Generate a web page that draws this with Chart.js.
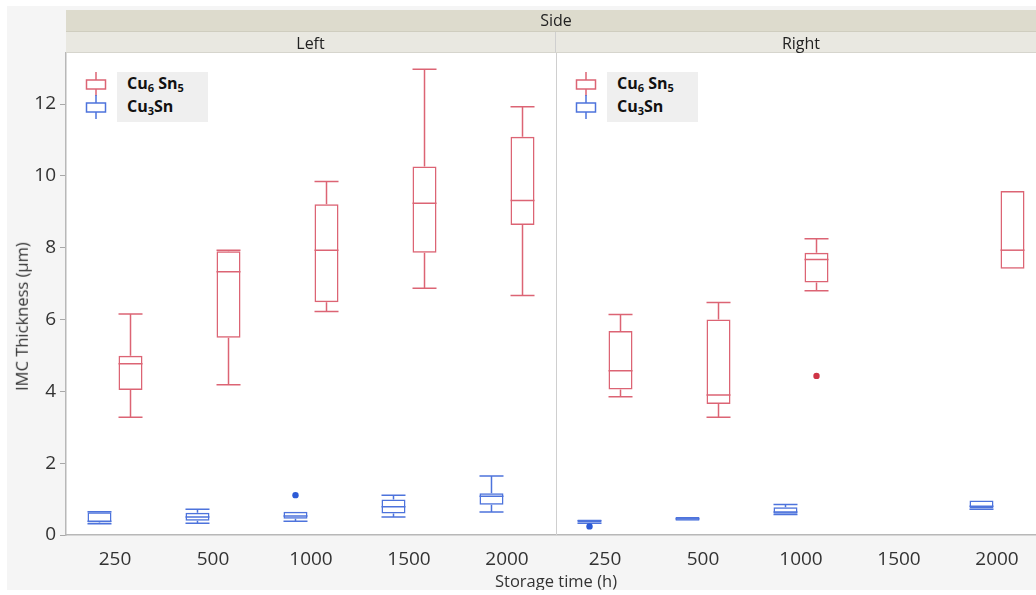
<!DOCTYPE html>
<html>
<head>
<meta charset="utf-8">
<script src="https://cdn.jsdelivr.net/npm/chart.js@4.4.1/dist/chart.umd.min.js"></script>
<style>
  html, body { margin:0; padding:0; width:1036px; height:595px; overflow:hidden; background:#ffffff; font-family:'Open Sans', sans-serif; }
  #bg { position:absolute; left:7px; top:6px; width:1029px; height:584px; background:#f5f5f5; }
  #wrap { position:absolute; left:0; top:0; width:1060px; height:595px; }
  #bottomCut { position:absolute; left:0; top:590px; width:1036px; height:5px; background:#ffffff; z-index:5; }
  .band { position:absolute; box-sizing:border-box; text-align:center; color:#222; font-size:16px; z-index:3; }
  .legend { position:absolute; z-index:4; }
  .txt { font-weight:bold; font-size:16px; color:#111; white-space:nowrap; line-height:18px; }
  .txt sub { font-size:11px; vertical-align:-3px; line-height:0; }
  #ytitle { position:absolute; z-index:4; font-size:16.5px; color:#333; white-space:nowrap; transform-origin:center center; }
</style>
</head>
<body>
<div id="bg"></div>
<div id="wrap"><canvas id="c" width="1060" height="595"></canvas></div>
<div id="bottomCut"></div>
<script>
// ---------------- data ----------------
const sides = ['Left', 'Right'];
const times = ['250', '500', '1000', '1500', '2000'];
const xLabels = sides.flatMap(() => times);   // Left 250..2000, then Right 250..2000
const seriesNames = ['Cu6Sn5', 'Cu3Sn'];

// Cu6Sn5 box statistics (µm)
const cu6Min = [3.28, 4.18, 6.22, 6.87, 6.67,   3.85, 3.28, 6.80, null, 7.41];
const cu6Q1  = [4.04, 5.49, 6.48, 7.86, 8.63,   4.05, 3.65, 7.03, null, 7.41];
const cu6Med = [4.77, 7.33, 7.93, 9.24, 9.31,   4.57, 3.90, 7.67, null, 7.93];
const cu6Q3  = [4.99, 7.90, 9.21, 10.26, 11.09, 5.68, 6.00, 7.86, null, 9.58];
const cu6Max = [6.15, 7.93, 9.84, 12.97, 11.92, 6.14, 6.47, 8.25, null, 9.58];
const cu6Out = [[], [], [], [], [],             [], [], [4.43], [], []];

// Cu3Sn box statistics (µm)
const cu3Min = [0.31, 0.33, 0.38, 0.50, 0.64,   0.33, 0.39, 0.57, null, 0.72];
const cu3Q1  = [0.35, 0.40, 0.45, 0.60, 0.84,   0.35, 0.40, 0.59, null, 0.74];
const cu3Med = [0.38, 0.50, 0.53, 0.79, 1.08,   0.40, 0.45, 0.64, null, 0.80];
const cu3Q3  = [0.63, 0.62, 0.65, 0.99, 1.16,   0.43, 0.50, 0.77, null, 0.96];
const cu3Max = [0.65, 0.72, 0.65, 1.11, 1.64,   0.43, 0.51, 0.85, null, 0.97];
const cu3Out = [[], [], [1.11], [], [],         [0.24], [], [], [], []];

const yTicks = [0, 2, 4, 6, 8, 10, 12];
const xTitle = 'Storage time (h)';
const yTitle = 'IMC Thickness (μm)';
const groupTitle = 'Side';

// ---------------- styles ----------------
const RED = '#dc6474';
const RED_DOT = '#cf3446';
const BLUE = '#4d73dc';
const BLUE_DOT = '#2d5bd6';
const FONT = "'Open Sans', sans-serif";

function boxData(q1, q3) { return q1.map((v, i) => v == null ? null : [v, q3[i]]); }

const plotBg = {
  id: 'plotBg',
  beforeDraw(chart) {
    const {ctx, chartArea: a} = chart;
    ctx.save();
    ctx.fillStyle = '#ffffff';
    ctx.fillRect(a.left, a.top, a.right - a.left, a.bottom - a.top);
    ctx.restore();
  }
};

const boxParts = {
  id: 'boxParts',
  afterDatasetsDraw(chart) {
    const {ctx} = chart;
    const y = chart.scales.y;
    const xs = chart.scales.x;
    const a = chart.chartArea;
    ctx.save();
    // panel divider
    const xd = Math.round(xs.getPixelForValue(4.5)) + 0.5;
    ctx.strokeStyle = '#cfcfcf';
    ctx.lineWidth = 1;
    ctx.beginPath(); ctx.moveTo(xd, a.top); ctx.lineTo(xd, a.bottom); ctx.stroke();

    chart.data.datasets.forEach((ds, di) => {
      const meta = chart.getDatasetMeta(di);
      const st = ds.stats;
      ctx.strokeStyle = ds.borderColor;
      ctx.lineWidth = 1.5;
      meta.data.forEach((el, j) => {
        if (ds.data[j] == null) return;
        const cx = el.x, hw = el.width / 2;
        const pMin = y.getPixelForValue(st.min[j]);
        const pMax = y.getPixelForValue(st.max[j]);
        const pQ1 = y.getPixelForValue(ds.data[j][0]);
        const pQ3 = y.getPixelForValue(ds.data[j][1]);
        const pMed = y.getPixelForValue(st.med[j]);
        ctx.beginPath();
        ctx.moveTo(cx - hw, pMed); ctx.lineTo(cx + hw, pMed);
        if (pMax < pQ3 - 0.5) {
          ctx.moveTo(cx, pQ3); ctx.lineTo(cx, pMax);
          ctx.moveTo(cx - hw, pMax); ctx.lineTo(cx + hw, pMax);
        }
        if (pMin > pQ1 + 0.5) {
          ctx.moveTo(cx, pQ1); ctx.lineTo(cx, pMin);
          ctx.moveTo(cx - hw, pMin); ctx.lineTo(cx + hw, pMin);
        }
        ctx.stroke();
        ctx.fillStyle = ds.dotColor;
        st.out[j].forEach(v => {
          ctx.beginPath();
          ctx.arc(cx, y.getPixelForValue(v), 3.2, 0, Math.PI * 2);
          ctx.fill();
        });
      });
    });
    ctx.restore();
  }
};

const chart = new Chart(document.getElementById('c'), {
  type: 'bar',
  data: {
    labels: xLabels,
    datasets: [
      {
        label: seriesNames[1],
        data: boxData(cu3Q1, cu3Q3),
        stats: {min: cu3Min, med: cu3Med, max: cu3Max, out: cu3Out},
        borderColor: BLUE, dotColor: BLUE_DOT,
        backgroundColor: 'rgba(0,0,0,0)', borderWidth: 1.5, borderSkipped: false,
        categoryPercentage: 0.633, barPercentage: 0.774
      },
      {
        label: seriesNames[0],
        data: boxData(cu6Q1, cu6Q3),
        stats: {min: cu6Min, med: cu6Med, max: cu6Max, out: cu6Out},
        borderColor: RED, dotColor: RED_DOT,
        backgroundColor: 'rgba(0,0,0,0)', borderWidth: 1.5, borderSkipped: false,
        categoryPercentage: 0.633, barPercentage: 0.774
      }
    ]
  },
  options: {
    responsive: false,
    animation: false,
    layout: {padding: {top: 53, right: 14, left: 0, bottom: 0}},
    plugins: {legend: {display: false}, tooltip: {enabled: false}},
    scales: {
      x: {
        grid: {display: false},
        border: {display: true, color: '#b8b8b8', width: 1.5},
        ticks: {font: {family: FONT, size: 19}, color: '#333333', padding: 5, autoSkip: false, maxRotation: 0},
        title: {display: true, text: xTitle, font: {family: FONT, size: 16.5}, color: '#333333', padding: {top: 0, bottom: 3}},
        afterFit(s) { s.height = 60; }
      },
      y: {
        min: 0, max: 13.42,
        ticks: {stepSize: 2, font: {family: FONT, size: 19}, color: '#333333', padding: 4},
        afterBuildTicks(s) { s.ticks = yTicks.map(v => ({value: v})); },
        grid: {drawOnChartArea: false, drawTicks: true, tickLength: 6, color: '#a8a8a8'},
        border: {display: true, color: '#b8b8b8', width: 1.5},
        title: {display: false},
        afterFit(s) { s.width = 66; }
      }
    }
  },
  plugins: [plotBg, boxParts]
});

// ---------------- header bands, y title & legends (HTML text) ----------------
(function () {
  const a = chart.chartArea;
  const xs = chart.scales.x;
  const mid = xs.getPixelForValue(4.5);
  const body = document.body;
  function div(cls, style, html) {
    const d = document.createElement('div');
    if (cls) d.className = cls;
    Object.assign(d.style, style);
    if (html != null) d.innerHTML = html;
    body.appendChild(d);
    return d;
  }
  const sideTop = 10, sideH = 22, panTop = sideTop + sideH, panH = a.top - panTop;
  div('band', {left: a.left + 'px', top: sideTop + 'px', width: (a.right - a.left) + 'px', height: sideH + 'px',
    background: '#dddbcd', lineHeight: (sideH - 1) + 'px', borderBottom: '1px solid #cfcdbf'}, groupTitle);
  div('band', {left: a.left + 'px', top: panTop + 'px', width: (mid - a.left) + 'px', height: panH + 'px',
    background: '#e9e8e1', lineHeight: (panH + 1) + 'px', borderRight: '1px solid #cfcfcf', borderBottom: '1px solid #d6d5cd'}, sides[0]);
  div('band', {left: mid + 'px', top: panTop + 'px', width: (a.right - mid) + 'px', height: panH + 'px',
    background: '#e9e8e1', lineHeight: (panH + 1) + 'px', borderBottom: '1px solid #d6d5cd'}, sides[1]);

  // y-axis title
  const yt = document.getElementById('ytitle') || div(null, {}, null);
  yt.id = 'ytitle';
  yt.textContent = yTitle;
  const w = yt.offsetWidth, h = yt.offsetHeight;
  yt.style.left = (21 - w / 2) + 'px';
  yt.style.top = (316 - h / 2) + 'px';
  yt.style.transform = 'rotate(-90deg)';

  function icon(color) {
    return '<svg width="22" height="26" viewBox="0 0 22 26"><g fill="none" stroke="' + color + '" stroke-width="1.5">' +
      '<line x1="11" y1="0" x2="11" y2="8"/><rect x="1.5" y="8" width="19" height="9"/><line x1="11" y1="17" x2="11" y2="24"/></g></svg>';
  }
  const legendTexts = ['Cu<sub>6</sub> Sn<sub>5</sub>', 'Cu<sub>3</sub>Sn'];
  [0, 1].forEach(p => {
    const ox = p === 0 ? 0 : (mid - a.left);
    const L = a.left;
    div('legend', {left: (L + 51 + ox) + 'px', top: '72px', width: '91px', height: '50px', background: '#efefef'});
    div('legend', {left: (L + 19 + ox) + 'px', top: '72px'}, icon(RED));
    div('legend', {left: (L + 19 + ox) + 'px', top: '95px'}, icon(BLUE));
    div('legend txt', {left: (L + 61 + ox) + 'px', top: '74px'}, legendTexts[0]);
    div('legend txt', {left: (L + 61 + ox) + 'px', top: '97px'}, legendTexts[1]);
  });
})();
</script>
</body>
</html>
